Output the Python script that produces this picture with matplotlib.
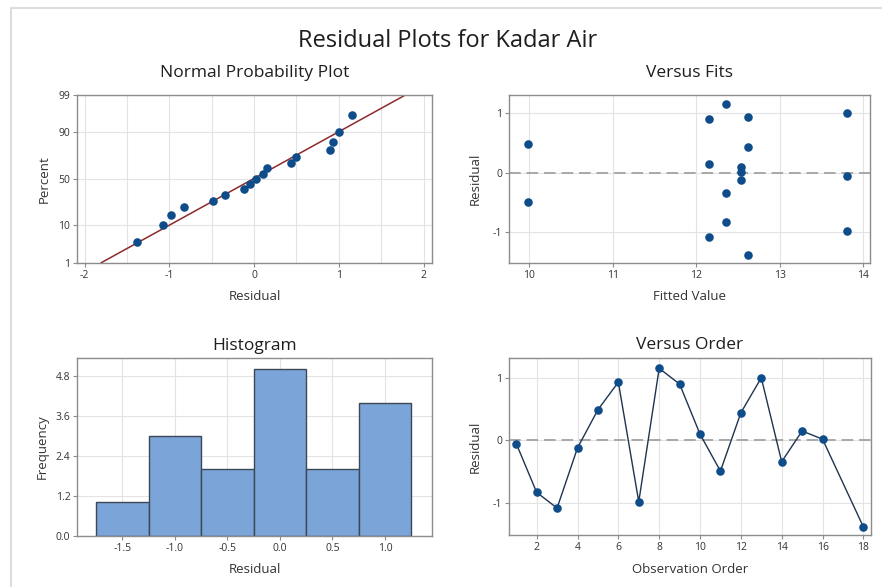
import numpy as np
import matplotlib.pyplot as plt
from matplotlib.patches import Rectangle
from statistics import NormalDist

plt.rcParams['font.family'] = ['Open Sans', 'DejaVu Sans']
plt.rcParams['axes.unicode_minus'] = False

# ____________________________________________________________________________________________________
# Data

obs_order = [1, 2, 3, 4, 5, 6, 7, 8, 9, 10, 11, 12, 13, 14, 15, 16, 18]
residuals = [-0.05, -0.83, -1.08, -0.12, 0.49, 0.93, -0.98, 1.15, 0.90,
             0.10, -0.49, 0.44, 1.00, -0.34, 0.15, 0.02, -1.38]
fitted = [13.80, 12.35, 12.15, 12.53, 9.98, 12.62, 13.80, 12.35, 12.15,
          12.53, 9.98, 12.62, 13.80, 12.35, 12.15, 12.53, 12.62]

# percent positions of the sorted residuals on the probability plot
percents = [4.0, 9.8, 15.5, 21.3, 27.0, 32.8, 38.5, 44.3, 50.0,
            55.7, 61.5, 67.2, 73.0, 78.7, 84.5, 90.2, 96.0]
pct_ticks = [1, 10, 50, 90, 99]

hist_edges = [-1.75, -1.25, -0.75, -0.25, 0.25, 0.75, 1.25]

# ____________________________________________________________________________________________________
# Styling

DOT = '#0E4C8A'
BAR = '#7BA4D8'
GRID = '#E3E3E3'
SPINE = '#8C8C8C'
TXT = '#333333'
HEAD = '#1E1E1E'

fig = plt.figure(figsize=(8.82, 5.87), dpi=100)
fig.patch.set_facecolor('white')

# faint frame around the chart
fig.patches.append(Rectangle((11 / 882, -0.05), 1.2, 1 - 8 / 587 + 0.05,
                             transform=fig.transFigure, fill=False,
                             edgecolor='#DCDCDC', lw=1.5))


def style(ax):
    for s in ax.spines.values():
        s.set_color(SPINE)
        s.set_linewidth(1.0)
    ax.tick_params(length=3, width=0.8, color=SPINE, labelsize=7.5,
                   labelcolor=TXT, pad=2)
    ax.set_axisbelow(True)


ax1 = fig.add_axes([0.0873, 0.5525, 0.4025, 0.2862])
ax2 = fig.add_axes([0.5774, 0.5525, 0.4090, 0.2862])
ax3 = fig.add_axes([0.0876, 0.0874, 0.4025, 0.3022])
ax4 = fig.add_axes([0.5771, 0.0886, 0.4101, 0.3020])
for ax in (ax1, ax2, ax3, ax4):
    style(ax)

nd = NormalDist()
z = lambda p: nd.inv_cdf(p / 100.0)

# ____________________________________________________________________________________________________
# Normal probability plot

res_sorted = np.sort(residuals)
zs = [z(p) for p in percents]
mu, sd = np.mean(residuals), np.std(residuals, ddof=1)
zl = np.array([z(1), z(99)])
ax1.plot(mu + sd * zl, zl, color='#8E2A2A', lw=1.1, zorder=2)
ax1.scatter(res_sorted, zs, s=38, color=DOT, zorder=3, linewidths=0)
ax1.set_xlim(-2.09, 2.10)
ax1.set_ylim(z(1), z(99))
ax1.set_xticks([-2, -1, 0, 1, 2])
ax1.set_xticks(np.arange(-2, 2.01, 0.5), minor=True)
ax1.tick_params(axis='x', which='minor', length=0)
ax1.set_yticks([z(p) for p in pct_ticks])
ax1.set_yticklabels([str(p) for p in pct_ticks])
ax1.grid(True, which='both', color=GRID, lw=0.8)
ax1.set_xlabel('Residual', fontsize=9.5, color=TXT, labelpad=7)
ax1.set_ylabel('Percent', fontsize=9.5, color=TXT, labelpad=5)
ax1.set_title('Normal Probability Plot', fontsize=12.5, color=HEAD, pad=13)

# ____________________________________________________________________________________________________
# Versus fits

ax2.axhline(0, color='#A8A8A8', lw=1.4, ls=(0, (6, 3)), zorder=1)
ax2.scatter(fitted, residuals, s=38, color=DOT, zorder=3, linewidths=0)
ax2.set_xlim(9.76, 14.08)
ax2.set_ylim(-1.51, 1.31)
ax2.set_xticks([10, 11, 12, 13, 14])
ax2.set_yticks([-1, 0, 1])
ax2.grid(True, color=GRID, lw=0.8)
ax2.set_xlabel('Fitted Value', fontsize=9.5, color=TXT, labelpad=7)
ax2.set_ylabel('Residual', fontsize=9.5, color=TXT, labelpad=8)
ax2.set_title('Versus Fits', fontsize=12.5, color=HEAD, pad=13)

# ____________________________________________________________________________________________________
# Histogram

ax3.hist(residuals, bins=hist_edges, color=BAR, edgecolor='#3C4856', lw=1.0, zorder=2)
ax3.set_xlim(-1.93, 1.45)
ax3.set_ylim(0, 5.33)
ax3.set_xticks([-1.5, -1.0, -0.5, 0.0, 0.5, 1.0])
ax3.set_yticks([0.0, 1.2, 2.4, 3.6, 4.8])
ax3.set_yticklabels(['0.0', '1.2', '2.4', '3.6', '4.8'])
ax3.grid(True, color=GRID, lw=0.8)
ax3.set_xlabel('Residual', fontsize=9.5, color=TXT, labelpad=7)
ax3.set_ylabel('Frequency', fontsize=9.5, color=TXT, labelpad=5)
ax3.set_title('Histogram', fontsize=12.5, color=HEAD, pad=6)

# ____________________________________________________________________________________________________
# Versus order

ax4.axhline(0, color='#A8A8A8', lw=1.4, ls=(0, (6, 3)), zorder=1)
ax4.plot(obs_order, residuals, color='#1E3550', lw=1.0, zorder=2)
ax4.scatter(obs_order, residuals, s=38, color=DOT, zorder=3, linewidths=0)
ax4.set_xlim(0.645, 18.36)
ax4.set_ylim(-1.51, 1.32)
ax4.set_xticks(range(2, 19, 2))
ax4.set_yticks([-1, 0, 1])
ax4.grid(True, color=GRID, lw=0.8)
ax4.set_xlabel('Observation Order', fontsize=9.5, color=TXT, labelpad=7)
ax4.set_ylabel('Residual', fontsize=9.5, color=TXT, labelpad=8)
ax4.set_title('Versus Order', fontsize=12.5, color=HEAD, pad=6)

fig.text(0.508, 0.930, 'Residual Plots for Kadar Air', ha='center', va='center',
         fontsize=17, color=HEAD)

fig.savefig('out.png', dpi=100)
